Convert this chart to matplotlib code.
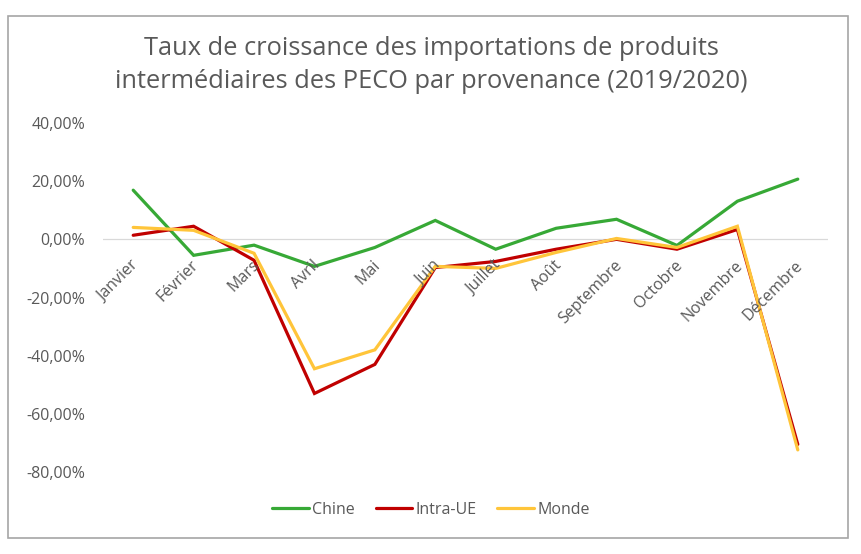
import matplotlib.pyplot as plt
from matplotlib.ticker import FuncFormatter
from matplotlib.patches import Rectangle

plt.rcParams['font.family'] = ['Open Sans', 'DejaVu Sans']

mois = ['Janvier', 'Février', 'Mars', 'Avril', 'Mai', 'Juin', 'Juillet',
        'Août', 'Septembre', 'Octobre', 'Novembre', 'Décembre']
chine = [16.9, -5.5, -2.0, -9.3, -2.8, 6.5, -3.4, 3.8, 6.9, -2.1, 13.1, 20.7]
intra_ue = [1.4, 4.5, -7.2, -53.0, -43.0, -9.7, -7.6, -3.4, 0.0, -3.4, 3.4, -70.5]
monde = [4.1, 3.1, -4.8, -44.5, -38.0, -9.3, -10.0, -4.5, 0.3, -2.8, 4.5, -72.4]

series = [('Chine', chine, '#37A936'), ('Intra-UE', intra_ue, '#C00000'), ('Monde', monde, '#FFC53A')]
gris = '#595959'
fs = 11.5

fig = plt.figure(figsize=(8.62, 5.54), dpi=100)
ax = fig.add_axes([103 / 862, 1 - 472 / 554, 725 / 862, 349 / 554])

x = list(range(len(mois)))
for nom, vals, col in series:
    ax.plot(x, vals, color=col, linewidth=2.3, label=nom, solid_capstyle='round', solid_joinstyle='miter')

ax.set_xlim(-0.5, len(mois) - 0.5)
ax.set_ylim(-80, 40)
ax.set_yticks([-80, -60, -40, -20, 0, 20, 40])
ax.yaxis.set_major_formatter(FuncFormatter(lambda v, p: '{:.2f}%'.format(v).replace('.', ',')))
ax.axhline(0, color='#D9D9D9', linewidth=0.9, zorder=0)

for s in ax.spines.values():
    s.set_visible(False)
ax.tick_params(axis='both', length=0, colors=gris, labelsize=fs)
ax.tick_params(axis='y', pad=13)

ax.set_xticks(x)
ax.set_xticklabels([])
# category labels sit just under the zero line, as in the original
for i, m in enumerate(mois):
    ax.annotate(m, xy=(i, 0), xytext=(-2, -13), textcoords='offset points',
                rotation=45, ha='right', va='top', rotation_mode='anchor',
                color=gris, fontsize=fs)

fig.text(0.5, 1 - 65 / 554, 'Taux de croissance des importations de produits\nintermédiaires des PECO par provenance (2019/2020)',
         ha='center', va='center', fontsize=18.3, color=gris, linespacing=1.4)

leg = fig.legend(loc='center', bbox_to_anchor=(0.5, 1 - 510 / 554), ncol=3, frameon=False,
                 fontsize=fs, handlelength=2.3, handletextpad=0.2, columnspacing=1.3)
for t in leg.get_texts():
    t.set_color(gris)

fig.patches.append(Rectangle((8 / 862, 1 - 538 / 554), 840 / 862, 522 / 554,
                             transform=fig.transFigure, fill=False, edgecolor='#A6A6A6', linewidth=1.2))

fig.savefig('out.png', dpi=100)
